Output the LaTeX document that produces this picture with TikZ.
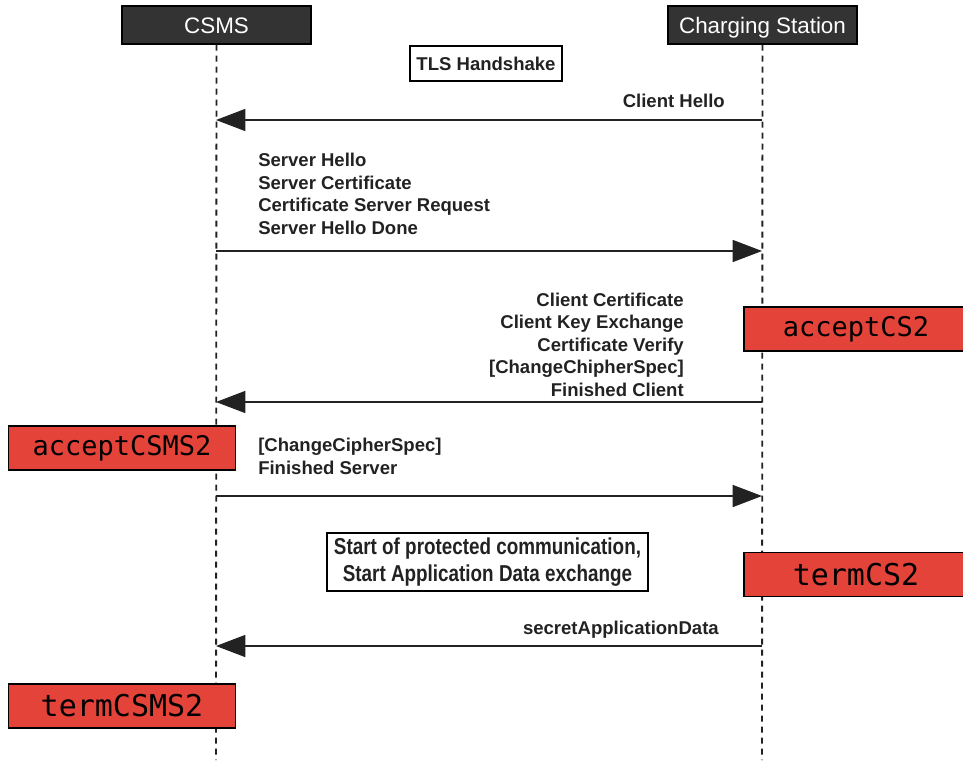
\documentclass[tikz,border=0pt]{standalone}
\usepackage{fontspec}
\setmainfont{Liberation Sans}
\newfontfamily\monofont{DejaVu Sans Mono}
\newfontfamily\narrowfont[FakeStretch=0.82]{Liberation Sans}
\usetikzlibrary{arrows.meta}
\definecolor{hdr}{HTML}{333333}
\definecolor{redbox}{HTML}{E4433A}
\definecolor{ink}{HTML}{222222}
\tikzset{
  header/.style={draw=black, line width=0.9pt, fill=hdr, text=white, minimum width=141.75pt, minimum height=28.5pt, inner sep=0pt, text height=12pt, text depth=0pt, font=\fontsize{16.8pt}{20pt}\selectfont},
  lifeline/.style={draw=ink, line width=1.4pt, dash pattern=on 4.5pt off 3.75pt},
  msg/.style={draw=ink, line width=1.1pt, -{Triangle[length=22pt,width=16.5pt]}},
  lbl/.style={inner sep=0pt, text=ink, font=\fontsize{13.9pt}{16.95pt}\selectfont\bfseries},
  notebox/.style={draw=black, line width=1.2pt, fill=white, inner sep=0pt, text=ink},
  redtag/.style={draw=black, line width=0.9pt, fill=redbox, inner sep=0pt, minimum width=170pt, minimum height=33pt},
  acc/.style={redtag, font=\fontsize{20.25pt}{24pt}\monofont},
  trm/.style={redtag, font=\fontsize{22.5pt}{26pt}\monofont},
}
\begin{document}
\begin{tikzpicture}[x=0.75pt, y=-0.75pt]
\useasboundingbox (0,0) rectangle (963,760);
% lifelines
\coordinate (csmsEnd) at (216,760);
\coordinate (csEnd) at (762,760);
\node[header] (csms) at (216.5,25) {CSMS};
\node[header] (cs) at (762.5,25) {Charging Station};
\draw[lifeline] (csms.south) -- (csmsEnd);
\draw[lifeline] (cs.south) -- (csEnd);
% TLS handshake
\node[notebox, minimum width=114pt, minimum height=26.5pt, font=\fontsize{13.9pt}{16.95pt}\selectfont\bfseries] (tls) at (486,63.5) {TLS Handshake};
% message 1
\coordinate (cs1) at (762,120);
\coordinate (csms1) at (216,120);
\draw[msg] (cs1) -- (csms1);
\node[lbl, anchor=base east] (l1) at (725,107) {Client Hello};
% message 2
\coordinate (csms2) at (216,251);
\coordinate (cs2) at (762,251);
\draw[msg] (csms2) -- (cs2);
\node[lbl, anchor=south west, align=left] (l2) at (258,235) {Server Hello\\Server Certificate\\Certificate Server Request\\Server Hello Done};
% message 3
\coordinate (cs3) at (762,402);
\coordinate (csms3) at (216,402);
\draw[msg] (cs3) -- (csms3);
\node[lbl, anchor=south east, align=right] (l3) at (684,397) {Client Certificate\\Client Key Exchange\\Certificate Verify\\{[}ChangeChipherSpec{]}\\Finished Client};
\node[acc, minimum width=168pt] (acs) at (856,329) {acceptCS2};
% message 4
\node[acc] (acsms) at (122,448) {acceptCSMS2};
\coordinate (csms4) at (216,496);
\coordinate (cs4) at (762,496);
\draw[msg] (csms4) -- (cs4);
\node[lbl, anchor=south west, align=left] (l4) at (258,475) {{[}ChangeCipherSpec{]}\\Finished Server};
% protected communication
\node[notebox, minimum width=240.75pt, minimum height=43.5pt, align=center, font=\fontsize{17.25pt}{20.5pt}\narrowfont\bfseries] (prot) at (487.5,562) {Start of protected communication,\\Start Application Data exchange};
\node[trm, minimum width=168pt] (tcs) at (856,574.5) {termCS2};
% message 5
\coordinate (cs5) at (762,646);
\coordinate (csms5) at (216,646);
\draw[msg] (cs5) -- (csms5);
\node[lbl, anchor=base east] (l5) at (719,634) {secretApplicationData};
\node[trm] (tcsms) at (122,706) {termCSMS2};
\end{tikzpicture}
\end{document}
